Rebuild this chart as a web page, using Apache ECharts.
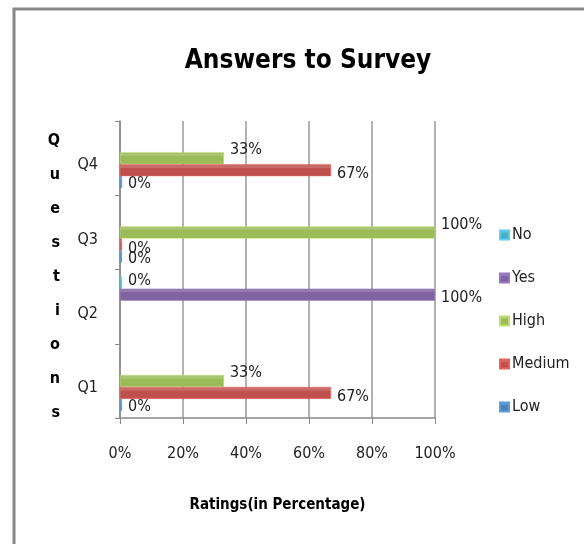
<!DOCTYPE html>
<html>
<head>
<meta charset="utf-8">
<script src="https://cdn.jsdelivr.net/npm/echarts@6/dist/echarts.min.js"></script>
<style>
  html, body { margin: 0; padding: 0; background: #fff; }
  #chart { width: 584px; height: 544px; }
</style>
</head>
<body>
<div id="chart"></div>
<script>
const categories = ["Q1", "Q2", "Q3", "Q4"];
const lowVals = [0, null, 0, 0];
const mediumVals = [67, null, 0, 67];
const highVals = [33, null, 100, 33];
const yesVals = [null, 100, null, null];
const noVals = [null, 0, null, null];
const xTicks = [0, 20, 40, 60, 80, 100];

const FONT = '"Liberation Sans Narrow", "DejaVu Sans Condensed", sans-serif';

const chart = echarts.init(document.getElementById("chart"));

// one bar series, excel-ish: lighter top face, thin sliver for zeros, % label at the end
const bar = (name, data, color, labelOffset) => ({
  name,
  type: "bar",
  data,
  barWidth: 12,
  barGap: "0%",
  barMinHeight: 2,
  itemStyle: {
    color: new echarts.graphic.LinearGradient(0, 0, 0, 1, [
      { offset: 0, color: echarts.color.lift(color, 0.15) },
      { offset: 0.3, color: echarts.color.lift(color, 0.15) },
      { offset: 0.31, color },
      { offset: 1, color },
    ]),
    borderColor: echarts.color.lift(color, -0.2),
    borderWidth: 0.5,
  },
  label: {
    show: true,
    position: "right",
    distance: 6,
    offset: labelOffset,
    formatter: "{c}%",
    fontFamily: FONT,
    fontSize: 16,
    color: "#222",
  },
});

// vertical letters; a short spacer line on top nudges the stack down a bit
const yName = "{sp| }\n" + "Questions".split("").map((c) => `{l|${c}}`).join("\n");

chart.setOption({
  animation: false,
  textStyle: { fontFamily: FONT },
  title: {
    text: "Answers to Survey",
    left: 303,
    textAlign: "center",
    top: 43,
    textStyle: { fontFamily: FONT, fontSize: 26, fontWeight: "bold", color: "#000" },
  },
  legend: {
    orient: "vertical",
    left: 494,
    top: 222,
    itemWidth: 9,
    itemHeight: 9,
    itemGap: 27,
    icon: "rect",
    data: ["No", "Yes", "High", "Medium", "Low"],
    textStyle: { fontFamily: FONT, fontSize: 16, color: "#222", padding: [0, 0, 0, -2] },
  },
  grid: { left: 120, right: 149, top: 121, bottom: 126 },
  xAxis: {
    type: "value",
    min: 0,
    max: 100,
    interval: 20,
    name: "Ratings(in Percentage)",
    nameLocation: "middle",
    nameGap: 80,
    nameTextStyle: { fontFamily: FONT, fontSize: 15, fontWeight: "bold", color: "#000" },
    axisLine: { show: true, lineStyle: { color: "#888", width: 1.5 } },
    axisTick: { show: true, length: 6, lineStyle: { color: "#888" } },
    axisLabel: {
      margin: 28,
      fontFamily: FONT,
      fontSize: 16,
      color: "#222",
      formatter: (v) => (xTicks.includes(v) ? v + "%" : ""),
    },
    splitLine: { show: true, lineStyle: { color: "#999", width: 1.5 } },
  },
  yAxis: {
    type: "category",
    data: categories,
    name: yName,
    nameLocation: "middle",
    nameRotate: 0,
    nameGap: 60,
    nameTextStyle: {
      fontFamily: FONT,
      fontSize: 16,
      fontWeight: "bold",
      color: "#000",
      rich: {
        sp: { fontSize: 10, lineHeight: 14 },
        l: { fontFamily: FONT, fontSize: 16, fontWeight: "bold", color: "#000", lineHeight: 34 },
      },
    },
    axisLine: { show: true, lineStyle: { color: "#888", width: 1.5 } },
    axisTick: { show: true, length: 5, lineStyle: { color: "#888" } },
    axisLabel: {
      margin: 22,
      fontFamily: FONT,
      fontSize: 16,
      color: "#222",
      verticalAlign: "top",
      lineHeight: 14,
    },
  },
  graphic: [
    {
      type: "rect",
      shape: { x: 14, y: 9, width: 700, height: 700 },
      style: { fill: "none", stroke: "#888", lineWidth: 3 },
      silent: true,
    },
  ],
  // listed top-to-bottom within each band, so Low ends up at the bottom
  series: [
    bar("No", noVals, "#4BACC6", [0, -2]),
    bar("Yes", yesVals, "#8064A2", [0, 3]),
    bar("High", highVals, "#9BBB59", [0, -8]),
    bar("Medium", mediumVals, "#C0504D", [0, 4]),
    bar("Low", lowVals, "#4F81BD", [0, 2]),
  ],
});
</script>
</body>
</html>
